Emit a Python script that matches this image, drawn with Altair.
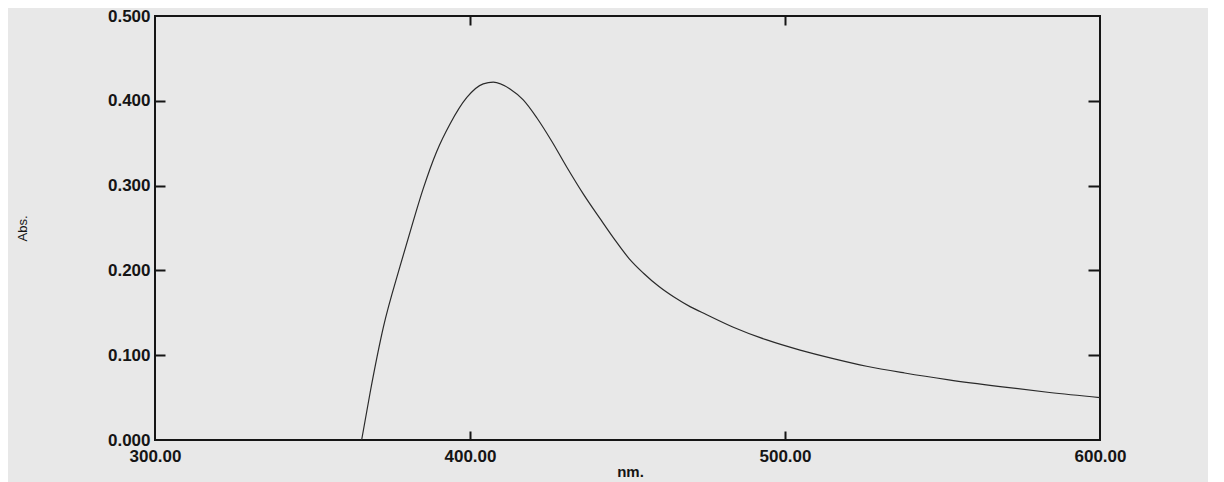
import altair as alt
import pandas as pd

# Spectrum
wavelength_nm = [365.6, 368.3, 372.5, 377.8, 381.5, 385.2, 389.4, 393.7, 399.0, 404.2,
                 407.4, 412.7, 416.9, 421.2, 426.0, 430.7, 436.0, 441.3, 446.0, 450.5,
                 455.0, 460.0, 465.0, 470.0, 475.0, 483.6, 494.2, 504.8, 515.3, 525.9,
                 538.0, 552.0, 568.3, 584.0, 600.0]
absorbance = [0.000, 0.056, 0.133, 0.205, 0.252, 0.297, 0.340, 0.373, 0.404, 0.420,
              0.422, 0.414, 0.401, 0.380, 0.352, 0.322, 0.290, 0.261, 0.236, 0.214,
              0.197, 0.181, 0.168, 0.157, 0.148, 0.133, 0.118, 0.106, 0.096, 0.087,
              0.079, 0.071, 0.063, 0.056, 0.050]

x_label_values = [300, 400, 500, 600]
y_label_values = [0.0, 0.1, 0.2, 0.3, 0.4, 0.5]
x_tick_values = [400, 500]
y_tick_values = [0.1, 0.2, 0.3, 0.4]

df = pd.DataFrame({"nm": wavelength_nm, "abs": absorbance})

FONT = "Liberation Sans"
INK = "#151515"

xscale = alt.Scale(domain=[300, 600], nice=False, zero=False)
yscale = alt.Scale(domain=[0, 0.5], nice=False)

base = alt.Chart(df)

main = base.mark_line(color="#2a2a2a", strokeWidth=1.2, interpolate="monotone").encode(
    x=alt.X("nm:Q", scale=xscale,
            axis=alt.Axis(values=x_label_values, format=".2f", title="nm.",
                          ticks=False, domain=False, grid=False,
                          labelFont=FONT, labelFontSize=17, labelFontWeight="bold",
                          labelColor=INK, labelPadding=8, labelFlush=False,
                          labelOverlap=False,
                          titleFont=FONT, titleFontSize=15, titleFontWeight="bold",
                          titleColor=INK, titleX=475, titleY=31,
                          titleBaseline="middle", titleAlign="center")),
    y=alt.Y("abs:Q", scale=yscale,
            axis=alt.Axis(values=y_label_values, format=".3f", title="Abs.",
                          ticks=False, domain=False, grid=False,
                          labelFont=FONT, labelFontSize=17, labelFontWeight="bold",
                          labelColor=INK, labelPadding=5, labelOverlap=False,
                          titleFont=FONT, titleFontSize=13, titleFontWeight="normal",
                          titleColor=INK, titleX=-133, titleY=212, titleAngle=270,
                          titleBaseline="middle", titleAlign="center")),
)

ticks_in_a = base.mark_line(opacity=0).encode(
    x=alt.X("nm:Q", scale=xscale,
            axis=alt.Axis(orient="bottom", values=x_tick_values, labels=False, title=None,
                          domain=False, grid=False, ticks=True, tickSize=9, tickWidth=2,
                          tickColor=INK, offset=-9)),
    y=alt.Y("abs:Q", scale=yscale,
            axis=alt.Axis(orient="left", values=y_tick_values, labels=False, title=None,
                          domain=False, grid=False, ticks=True, tickSize=10, tickWidth=2,
                          tickColor=INK, offset=-10)),
)

ticks_in_b = base.mark_line(opacity=0).encode(
    x=alt.X("nm:Q", scale=xscale,
            axis=alt.Axis(orient="top", values=x_tick_values, labels=False, title=None,
                          domain=False, grid=False, ticks=True, tickSize=9, tickWidth=2,
                          tickColor=INK, offset=-9)),
    y=alt.Y("abs:Q", scale=yscale,
            axis=alt.Axis(orient="right", values=y_tick_values, labels=False, title=None,
                          domain=False, grid=False, ticks=True, tickSize=12, tickWidth=2,
                          tickColor=INK, offset=-12)),
)

chart = alt.layer(main, ticks_in_a, ticks_in_b).resolve_axis(
    x="independent", y="independent"
).properties(
    width=945, height=424,
    autosize=alt.AutoSizeParams(type="none"),
    padding={"left": 147, "top": 8, "right": 108, "bottom": 42},
    background="#e8e8e8",
).configure_view(stroke=INK, strokeWidth=2)

chart.save("out.html", embed_options={"renderer": "svg", "actions": False})
